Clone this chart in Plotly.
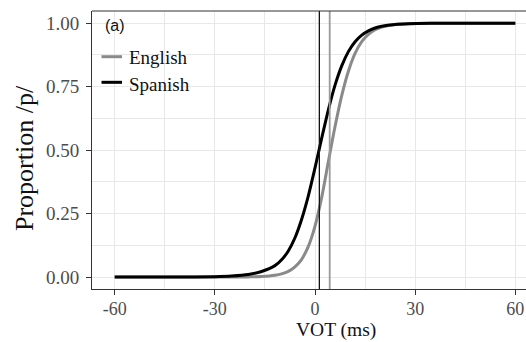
import plotly.graph_objects as go

# ---- data ----
vot = [-60, -40, -30, -25, -20, -16, -12, -10, -8, -6, -4, -2, 0, 2, 4, 6, 8, 10,
       12, 14, 16, 18, 20, 24, 28, 35, 45, 60]
english = [0.0, 0.0, 0.0001, 0.0003, 0.0007, 0.002, 0.0068, 0.0124, 0.0223, 0.040,
           0.070, 0.121, 0.201, 0.314, 0.455, 0.593, 0.715, 0.811, 0.881, 0.927,
           0.956, 0.974, 0.985, 0.995, 0.998, 0.9997, 1.0, 1.0]
spanish = [0.0, 0.0003, 0.0015, 0.004, 0.010, 0.022, 0.045, 0.068, 0.103, 0.155,
           0.228, 0.320, 0.430, 0.547, 0.659, 0.756, 0.832, 0.888, 0.927, 0.953,
           0.970, 0.981, 0.988, 0.995, 0.998, 0.9995, 1.0, 1.0]
boundary_english = 4.4
boundary_spanish = 1.3

x_tickvals = [-60, -30, 0, 30, 60]
x_ticktext = ["-60", "-30", "0", "30", "60"]
x_minor = [-45, -15, 15, 45]
y_tickvals = [0.0, 0.25, 0.5, 0.75, 1.0]
y_ticktext = ["0.00", "0.25", "0.50", "0.75", "1.00"]
y_minor = [0.125, 0.375, 0.625, 0.875]

GRAY = "#8a8a8a"
BLACK = "#000000"
GRID = "#e8e8e8"
BORDER = "#333333"
SERIF = "Liberation Serif, Times New Roman, serif"

W, H = 526, 342
ML, MR, MT, MB = 92, 0, 11, 53
PW, PH = W - ML - MR, H - MT - MB


def px_x(p):
    return (p - ML) / PW


def px_y(p):
    return (H - MB - p) / PH


fig = go.Figure()
fig.add_trace(go.Scatter(x=vot, y=english, mode="lines", name="English",
                         line=dict(color=GRAY, width=3, shape="spline", smoothing=0.8),
                         showlegend=False))
fig.add_trace(go.Scatter(x=vot, y=spanish, mode="lines", name="Spanish",
                         line=dict(color=BLACK, width=3, shape="spline", smoothing=0.8),
                         showlegend=False))

shapes = [
    dict(type="line", xref="x", yref="paper", x0=boundary_spanish, x1=boundary_spanish,
         y0=0, y1=1, line=dict(color="#111111", width=1.3)),
    dict(type="line", xref="x", yref="paper", x0=boundary_english, x1=boundary_english,
         y0=0, y1=1, line=dict(color="#999999", width=1.8)),
    dict(type="line", xref="paper", yref="paper", x0=0, x1=1, y0=1, y1=1,
         line=dict(color=BORDER, width=1.1)),
    # legend keys
    dict(type="line", xref="paper", yref="paper", x0=px_x(101.5), x1=px_x(122),
         y0=px_y(56.7), y1=px_y(56.7), line=dict(color=GRAY, width=3)),
    dict(type="line", xref="paper", yref="paper", x0=px_x(101.5), x1=px_x(122),
         y0=px_y(82.3), y1=px_y(82.3), line=dict(color=BLACK, width=3)),
]

annotations = [
    dict(text="(a)", xref="paper", yref="paper", x=px_x(103), y=px_y(25.5),
         xanchor="left", yanchor="middle", showarrow=False,
         font=dict(family="Liberation Sans, Arial, sans-serif", size=16, color="#111111")),
    dict(text="English", xref="paper", yref="paper", x=px_x(127), y=px_y(58),
         xanchor="left", yanchor="middle", showarrow=False,
         font=dict(family=SERIF, size=19, color="#111111")),
    dict(text="Spanish", xref="paper", yref="paper", x=px_x(127), y=px_y(84),
         xanchor="left", yanchor="middle", showarrow=False,
         font=dict(family=SERIF, size=19, color="#111111")),
    dict(text="VOT (ms)", xref="paper", yref="paper", x=px_x(336), y=px_y(341.8),
         xanchor="center", yanchor="bottom", showarrow=False, borderpad=0,
         font=dict(family=SERIF, size=19.5, color="#111111")),
    dict(text="Proportion /p/", xref="paper", yref="paper", x=px_x(24), y=px_y(158),
         xanchor="center", yanchor="middle", showarrow=False, textangle=-90,
         font=dict(family=SERIF, size=26, color="#111111")),
]

fig.update_layout(
    width=W, height=H,
    margin=dict(l=ML, r=MR, t=MT, b=MB, pad=0),
    paper_bgcolor="white", plot_bgcolor="white",
    shapes=shapes, annotations=annotations,
    xaxis=dict(range=[-66.8, 63.2], tickvals=x_tickvals, ticktext=x_ticktext,
               showgrid=True, gridcolor=GRID, gridwidth=1.1,
               minor=dict(tickvals=x_minor, showgrid=True, gridcolor=GRID, gridwidth=0.8),
               zeroline=False, showline=True, linecolor=BORDER, linewidth=1.1,
               ticks="outside", ticklen=5, tickwidth=1.1, tickcolor=BORDER,
               tickfont=dict(family=SERIF, size=18, color="#4d4d4d"),
               ticklabelstandoff=-2,
               fixedrange=True),
    yaxis=dict(range=[-0.047, 1.048], tickvals=y_tickvals, ticktext=y_ticktext,
               showgrid=True, gridcolor=GRID, gridwidth=1.1,
               minor=dict(tickvals=y_minor, showgrid=True, gridcolor=GRID, gridwidth=0.8),
               zeroline=False, showline=True, linecolor=BORDER, linewidth=1.1,
               ticks="outside", ticklen=5, tickwidth=1.1, tickcolor=BORDER,
               tickfont=dict(family=SERIF, size=19, color="#4d4d4d"),
               ticklabelstandoff=3,
               fixedrange=True),
)

fig.write_html("out.html", config={"displayModeBar": False},
               post_script="document.body.style.margin='0';document.body.style.overflow='hidden';")
